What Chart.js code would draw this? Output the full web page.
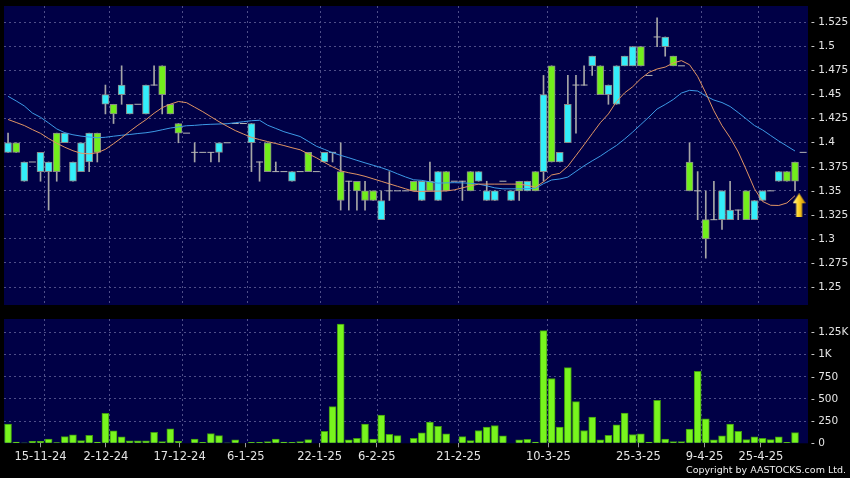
<!DOCTYPE html>
<html>
<head>
<meta charset="utf-8">
<script src="https://cdn.jsdelivr.net/npm/chart.js@4.4.1/dist/chart.umd.min.js"></script>
<style>
  html, body { margin: 0; padding: 0; background: #000; }
  #wrap { position: relative; width: 850px; height: 478px; overflow: hidden; background: #000; }
  #price { position: absolute; left: 0; top: 0; }
  #vol { position: absolute; left: 0; top: 310px; }
  #copy { position: absolute; right: 4px; top: 464px; font: 9.5px "DejaVu Sans", sans-serif; color: #f0f0f0; line-height: 11px; }
</style>
</head>
<body>
<div id="wrap">
  <canvas id="price" width="850" height="310"></canvas>
  <canvas id="vol" width="850" height="168"></canvas>
  <div id="copy">Copyright by AASTOCKS.com Ltd.</div>
</div>
<script>
// ---- data (one entry per trading slot) ----
const opens = [
  1.39,1.40,1.36,1.38,1.37,1.37,1.41,1.40,1.36,1.37,
  1.38,1.41,1.44,1.44,1.45,1.43,1.44,1.43,1.46,1.48,
  1.44,1.42,1.41,1.39,1.39,1.39,1.39,1.40,1.42,1.42,
  1.40,1.38,1.40,1.37,1.37,1.36,1.37,1.39,1.37,1.38,
  1.39,1.37,1.36,1.36,1.35,1.35,1.32,1.35,1.35,1.35,
  1.36,1.34,1.36,1.34,1.37,1.36,1.36,1.37,1.36,1.34,
  1.34,1.36,1.34,1.36,1.35,1.37,1.37,1.48,1.38,1.40,
  1.46,1.46,1.48,1.48,1.45,1.44,1.48,1.48,1.50,1.47,
  1.51,1.50,1.49,1.48,1.38,1.35,1.32,1.32,1.32,1.32,
  1.33,1.35,1.32,1.34,1.35,1.36,1.37,1.38,1.39];
const highs = [
  1.41,1.40,1.38,1.38,1.39,1.38,1.41,1.41,1.38,1.40,
  1.41,1.41,1.46,1.44,1.48,1.44,1.44,1.46,1.48,1.48,
  1.44,1.42,1.41,1.40,1.39,1.39,1.40,1.40,1.42,1.42,
  1.42,1.38,1.40,1.38,1.37,1.37,1.37,1.39,1.37,1.39,
  1.39,1.40,1.36,1.36,1.36,1.35,1.35,1.37,1.35,1.35,
  1.36,1.36,1.38,1.37,1.37,1.36,1.36,1.37,1.37,1.36,
  1.35,1.36,1.35,1.36,1.36,1.37,1.47,1.48,1.39,1.47,
  1.47,1.48,1.49,1.48,1.46,1.48,1.49,1.50,1.50,1.47,
  1.53,1.51,1.49,1.48,1.40,1.37,1.35,1.36,1.35,1.36,
  1.33,1.35,1.34,1.35,1.35,1.37,1.37,1.38,1.39];
const lows = [
  1.39,1.39,1.36,1.38,1.36,1.33,1.36,1.40,1.36,1.37,
  1.37,1.38,1.43,1.42,1.44,1.43,1.44,1.43,1.46,1.43,
  1.43,1.40,1.41,1.38,1.39,1.38,1.38,1.40,1.42,1.42,
  1.37,1.36,1.37,1.37,1.37,1.36,1.37,1.37,1.37,1.38,
  1.38,1.33,1.33,1.33,1.33,1.34,1.32,1.34,1.35,1.35,
  1.35,1.34,1.35,1.34,1.35,1.36,1.34,1.35,1.36,1.34,
  1.34,1.36,1.34,1.34,1.35,1.35,1.36,1.38,1.38,1.40,
  1.41,1.46,1.47,1.45,1.44,1.44,1.48,1.48,1.48,1.47,
  1.50,1.49,1.48,1.48,1.35,1.32,1.28,1.32,1.31,1.32,
  1.32,1.32,1.32,1.34,1.35,1.36,1.36,1.35,1.39];
const closes = [
  1.40,1.39,1.38,1.38,1.39,1.38,1.37,1.41,1.38,1.40,
  1.41,1.39,1.45,1.43,1.46,1.44,1.44,1.46,1.46,1.45,
  1.43,1.41,1.41,1.39,1.39,1.39,1.40,1.40,1.42,1.42,
  1.42,1.38,1.37,1.37,1.37,1.37,1.37,1.37,1.37,1.39,
  1.39,1.34,1.36,1.35,1.34,1.34,1.34,1.35,1.35,1.35,
  1.35,1.36,1.35,1.37,1.35,1.36,1.36,1.35,1.37,1.35,
  1.35,1.36,1.35,1.35,1.36,1.35,1.45,1.38,1.39,1.44,
  1.46,1.46,1.49,1.45,1.46,1.48,1.49,1.50,1.48,1.47,
  1.51,1.51,1.48,1.48,1.35,1.35,1.30,1.32,1.35,1.33,
  1.33,1.32,1.34,1.35,1.35,1.37,1.36,1.36,1.39];

// moving averages as drawn (orange = short, blue = long)
const maShort = [
  1.4242,1.4211,1.4179,1.4137,1.4098,1.4044,1.3995,1.3953,1.3917,1.3891,
  1.3885,1.3896,1.3932,1.3990,1.4052,1.4119,1.4182,1.4240,1.4307,1.4365,
  1.4401,1.4429,1.4417,1.4370,1.4323,1.4271,1.4219,1.4172,1.4127,1.4091,
  1.4056,1.4033,1.4012,1.3992,1.3971,1.3948,1.3927,1.3885,1.3844,1.3795,
  1.3750,1.3708,1.3688,1.3672,1.3651,1.3625,1.3599,1.3573,1.3547,1.3521,
  1.3495,1.3494,1.3495,1.3497,1.3499,1.3510,1.3531,1.3552,1.3570,1.3570,
  1.3570,1.3570,1.3570,1.3570,1.3557,1.3538,1.3594,1.3665,1.3682,1.3756,
  1.3867,1.3979,1.4094,1.4208,1.4300,1.4429,1.4519,1.4583,1.4667,1.4732,
  1.4767,1.4787,1.4830,1.4854,1.4811,1.4689,1.4518,1.4333,1.4178,1.4053,
  1.3904,1.3717,1.3521,1.3390,1.3350,1.3348,1.3374,1.3450];
const maLong = [
  1.4483,1.4435,1.4383,1.4309,1.4265,1.4206,1.4144,1.4104,1.4083,1.4069,
  1.4060,1.4052,1.4057,1.4068,1.4078,1.4086,1.4096,1.4104,1.4117,1.4135,
  1.4153,1.4165,1.4177,1.4181,1.4188,1.4192,1.4195,1.4198,1.4208,1.4219,
  1.4229,1.4234,1.4182,1.4149,1.4115,1.4090,1.4065,1.4015,1.3964,1.3931,
  1.3896,1.3869,1.3844,1.3817,1.3791,1.3766,1.3741,1.3712,1.3677,1.3644,
  1.3615,1.3609,1.3594,1.3580,1.3583,1.3585,1.3583,1.3578,1.3570,1.3552,
  1.3531,1.3521,1.3521,1.3521,1.3523,1.3526,1.3575,1.3613,1.3623,1.3643,
  1.3702,1.3760,1.3812,1.3861,1.3918,1.3972,1.4039,1.4112,1.4190,1.4268,
  1.4351,1.4398,1.4450,1.4517,1.4545,1.4538,1.4486,1.4444,1.4418,1.4377,
  1.4314,1.4247,1.4179,1.4133,1.4075,1.4018,1.3966,1.3914];

const volumes = [
  216,15,4,23,23,49,8,76,95,30,
  91,15,337,140,72,27,27,27,125,19,
  163,23,0,49,11,110,87,4,38,0,
  11,11,19,49,15,11,19,42,0,136,
  413,1345,38,57,216,49,318,102,87,0,
  57,117,239,190,106,0,76,30,144,182,
  201,83,0,38,45,15,1270,731,182,853,
  470,144,296,38,91,208,341,99,106,15,
  485,49,19,19,159,811,277,38,83,216,
  136,42,72,57,42,72,11,121];

const xTickPos    = [4.0, 12.05, 21.15, 29.3, 38.4, 45.45, 55.55, 66.6, 77.7, 85.85, 92.8];
const xTickLabels = ['15-11-24','2-12-24','17-12-24','6-1-25','22-1-25','6-2-25','21-2-25','10-3-25','25-3-25','9-4-25','25-4-25'];
const xGridPos    = [4.5, 12.5, 21.5, 29.5, 38.5, 45.5, 55.5, 66.5, 77.5, 85.5, 92.5];
const priceTicks  = [1.25,1.275,1.3,1.325,1.35,1.375,1.4,1.425,1.45,1.475,1.5,1.525];
const priceLabels = ['1.25','1.275','1.3','1.325','1.35','1.375','1.4','1.425','1.45','1.475','1.5','1.525'];
const volTicks    = [0,250,500,750,1000,1250];
const volLabels   = ['0','250','500','750','1K','1.25K'];
const signal      = [{x: 97.5, y: 1.335}];

// ---- style ----
const NAVY = '#000046', GRID = '#4e4e88', TXT = '#e4e4e4';
const CYAN = '#33eefa', GREEN = '#72ee1c', EDGE = '#8a8a8a', WICK = '#a6a6a6';
const X_MIN = -0.5, X_MAX = 98.6;
const FONT = 'DejaVu Sans';

const navyBg = {
  id: 'navyBg',
  beforeDraw(c) {
    const {ctx, chartArea: a} = c;
    ctx.save(); ctx.fillStyle = NAVY;
    ctx.fillRect(a.left, a.top, a.right - a.left, a.bottom - a.top);
    ctx.restore();
  }
};
const noPad = s => { s.paddingTop = s.paddingBottom = s.paddingLeft = s.paddingRight = 0; };

function arrowImg() {
  const c = document.createElement('canvas'); c.width = 13; c.height = 24;
  const g = c.getContext('2d');
  const gr = g.createLinearGradient(0, 0, 13, 0);
  gr.addColorStop(0, '#fff4a8'); gr.addColorStop(0.45, '#ffd426'); gr.addColorStop(1, '#c98a00');
  g.fillStyle = gr;
  g.beginPath();
  g.moveTo(6.5, 0); g.lineTo(13, 10); g.lineTo(9.5, 10); g.lineTo(9.5, 24);
  g.lineTo(3.5, 24); g.lineTo(3.5, 10); g.lineTo(0, 10); g.closePath(); g.fill();
  return c;
}

const idx = closes.map((_, i) => i);
const flat = i => opens[i] === closes[i];
const bodyIdx = idx.filter(i => !flat(i));
const gridX = {
  type: 'linear', position: 'top', min: X_MIN, max: X_MAX, offset: false,
  afterBuildTicks: s => { s.ticks = xGridPos.map(v => ({value: v})); },
  afterFit: s => { s.height = 0; noPad(s); },
  ticks: {display: false},
  grid: {color: GRID, drawTicks: false, offset: false},
  border: {display: false, dash: [2, 3]}
};

new Chart(document.getElementById('price'), {
  type: 'bar',
  data: {
    datasets: [
      {type: 'line', order: 0, data: maShort.map((v, i) => ({x: i, y: v})), borderColor: '#e09464', borderWidth: 1, pointRadius: 0, tension: 0},
      {type: 'line', order: 0, data: maLong.map((v, i) => ({x: i, y: v})), borderColor: '#3d9ae6', borderWidth: 1, pointRadius: 0, tension: 0},
      {type: 'line', order: -1, showLine: false, data: signal, pointStyle: arrowImg(), pointRadius: 10},
      {order: 1, grouped: false, barThickness: 7, borderSkipped: false, borderWidth: 1, borderColor: EDGE,
       data: bodyIdx.map(i => ({x: i, y: [opens[i], closes[i]]})),
       backgroundColor: bodyIdx.map(i => closes[i] > opens[i] ? CYAN : GREEN)},
      {type: 'line', order: 1, showLine: false, pointStyle: 'line', pointRadius: 3.5, borderColor: '#b4b4b4', pointBorderWidth: 1,
       data: idx.filter(flat).map(i => ({x: i, y: closes[i]}))},
      {order: 2, grouped: false, barThickness: 1, borderWidth: 0, backgroundColor: WICK,
       data: idx.filter(i => highs[i] > lows[i]).map(i => ({x: i, y: [lows[i], highs[i]]}))}
    ]
  },
  options: {
    responsive: false, animation: false, events: [],
    layout: {autoPadding: false, padding: {left: 4, top: 6, right: 0, bottom: 5}},
    plugins: {legend: {display: false}, tooltip: {enabled: false}},
    scales: {
      x: {type: 'linear', min: X_MIN, max: X_MAX, offset: false, display: false},
      xg: gridX,
      y: {
        position: 'right', min: 1.2313, max: 1.5422,
        afterBuildTicks: s => { s.ticks = priceTicks.map(v => ({value: v})); },
        afterFit: s => { s.width = 42; noPad(s); },
        ticks: {color: TXT, font: {family: FONT, size: 10.5}, padding: 3, autoSkip: false,
                callback: (v, i) => '- ' + priceLabels[i]},
        grid: {color: GRID, drawTicks: false},
        border: {display: false, dash: [2, 3]}
      }
    }
  },
  plugins: [navyBg]
});

new Chart(document.getElementById('vol'), {
  type: 'bar',
  data: {
    datasets: [{
      grouped: false, barThickness: 7, borderWidth: 1, borderSkipped: 'start',
      backgroundColor: '#78f51e', borderColor: '#3f9a10',
      data: volumes.map((v, i) => ({x: i, y: v}))
    }]
  },
  options: {
    responsive: false, animation: false, events: [],
    layout: {autoPadding: false, padding: {left: 4, top: 9, right: 0, bottom: 0}},
    plugins: {legend: {display: false}, tooltip: {enabled: false}},
    scales: {
      x: {
        type: 'linear', min: X_MIN, max: X_MAX, offset: false,
        afterBuildTicks: s => { s.ticks = xTickPos.map(v => ({value: v})); },
        afterFit: s => { s.height = 34.7; noPad(s); },
        ticks: {color: TXT, font: {family: FONT, size: 11.5}, padding: 3, autoSkip: false, maxRotation: 0,
                callback: (v, i) => xTickLabels[i]},
        grid: {drawOnChartArea: false, drawTicks: true, tickLength: 4, tickColor: '#9a9a9a', offset: false},
        border: {display: false}
      },
      xg: gridX,
      y: {
        position: 'right', min: 0, max: 1402,
        afterBuildTicks: s => { s.ticks = volTicks.map(v => ({value: v})); },
        afterFit: s => { s.width = 42; noPad(s); },
        ticks: {color: TXT, font: {family: FONT, size: 10.5}, padding: 3, autoSkip: false,
                callback: (v, i) => '- ' + volLabels[i]},
        grid: {color: c => c.tick && c.tick.value === 0 ? 'rgba(0,0,0,0)' : GRID, drawTicks: false},
        border: {display: false, dash: [2, 3]}
      }
    }
  },
  plugins: [navyBg]
});
</script>
</body>
</html>
